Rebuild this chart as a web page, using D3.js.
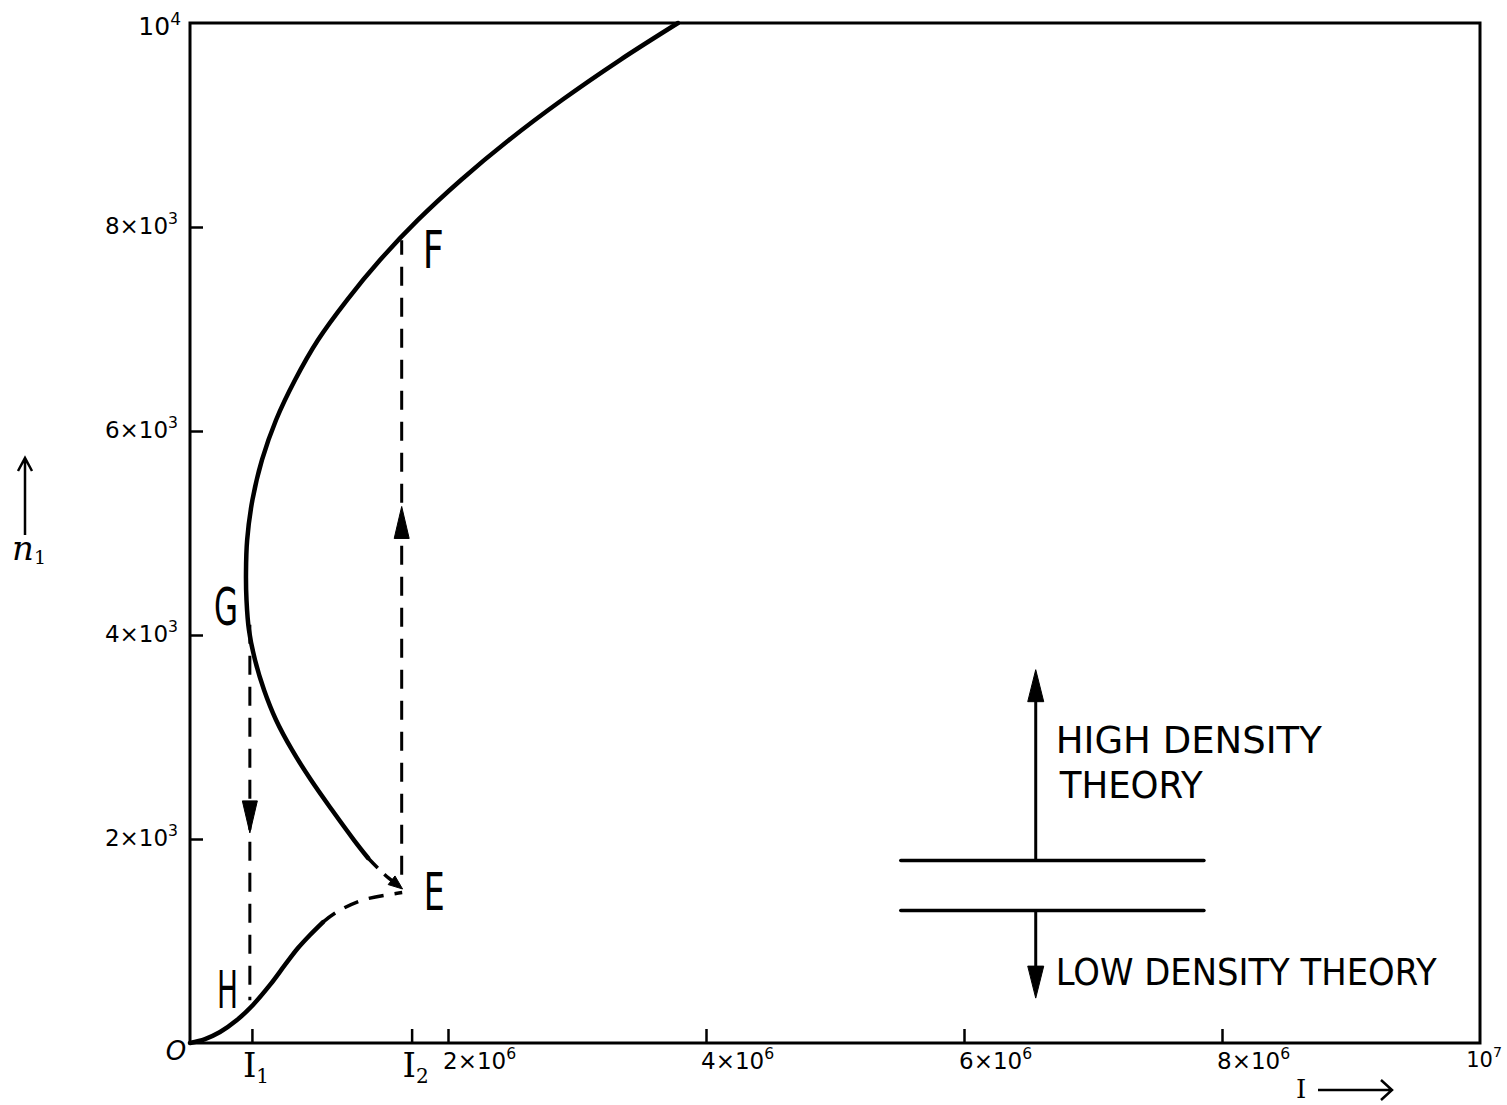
<!DOCTYPE html>
<html><head><meta charset="utf-8">
<script src="https://cdn.jsdelivr.net/npm/d3@7"></script>
<style>body{margin:0;background:#fff} svg{display:block}</style>
</head><body>
<svg id="chart" width="1507" height="1105"></svg>
<script>
// ---- data (I in amperes-like units, n1 density) ----
const xTickValues = [2e6, 4e6, 6e6, 8e6];
const xTickBase = ["2×10", "4×10", "6×10", "8×10"];
const xTickExp = ["6", "6", "6", "6"];
const yTickValues = [2e3, 4e3, 6e3, 8e3];
const yTickBase = ["2×10", "4×10", "6×10", "8×10"];
const yTickExp = ["3", "3", "3", "3"];
const xMax = 1e7, yMax = 1e4;

// high-density branch (solid), from top down to the fold near E
const upperI = [3.783e6, 3.333e6, 2.884e6, 2.473e6, 2.101e6, 1.767e6, 1.473e6, 1.217e6, 0.992e6, 0.814e6, 0.667e6, 0.558e6, 0.484e6, 0.443e6, 0.434e6, 0.438e6, 0.457e6, 0.504e6, 0.574e6, 0.667e6, 0.791e6, 0.938e6, 1.101e6, 1.271e6, 1.380e6];
const upperN = [10.0e3, 9.637e3, 9.245e3, 8.853e3, 8.461e3, 8.069e3, 7.676e3, 7.284e3, 6.892e3, 6.500e3, 6.108e3, 5.716e3, 5.324e3, 4.931e3, 4.608e3, 4.343e3, 4.049e3, 3.755e3, 3.461e3, 3.167e3, 2.873e3, 2.578e3, 2.284e3, 1.990e3, 1.814e3];
// dashed continuation into E
const upperDashI = [1.380e6, 1.51e6, 1.64e6];
const upperDashN = [1.814e3, 1.65e3, 1.52e3];
// low-density branch (solid)
const lowerI = [0.0, 0.116e6, 0.233e6, 0.364e6, 0.488e6, 0.620e6, 0.736e6, 0.837e6, 0.930e6, 1.031e6];
const lowerN = [0.0, 0.039e3, 0.108e3, 0.225e3, 0.373e3, 0.569e3, 0.765e3, 0.931e3, 1.059e3, 1.186e3];
// dashed continuation into E
const lowerDashI = [1.031e6, 1.138e6, 1.339e6, 1.645e6];
const lowerDashN = [1.186e3, 1.284e3, 1.402e3, 1.475e3];

// jumps (hysteresis transitions)
const jumpI = [0.464e6, 1.641e6];
const jumpFromN = [4.10e3, 1.65e3];
const jumpToN = [0.42e3, 7.87e3];
const jumpArrowN = [2.06e3, 5.26e3];

// I1, I2 markers on the x axis
const markI = [0.48e6, 1.718e6];
const markSub = ["1", "2"];

// point labels
const pointLabels = ["F", "G", "E", "H"];
const pointI = [1.641e6, 0.449e6, 1.641e6, 0.488e6];
const pointN = [7.87e3, 4.18e3, 1.52e3, 0.373e3];

// regime legend (in data units)
const legendI = [5.51e6, 7.86e6];
const legendN = [1.79e3, 1.30e3];
const legendArrowI = 6.556e6;
const legendArrowN = [3.66e3, 0.44e3];
const legendTexts = ["HIGH DENSITY", "THEORY", "LOW DENSITY THEORY"];

// ---- drawing ----
const svg = d3.select("#chart");
const x = d3.scaleLinear().domain([0, xMax]).range([190, 1480]);
const y = d3.scaleLinear().domain([0, yMax]).range([1043, 23]);
const numFont = "'DejaVu Sans', sans-serif";
const serif = "'DejaVu Serif', 'Liberation Serif', serif";

// frame
svg.append("rect").attr("x", x(0)).attr("y", y(yMax))
  .attr("width", x(xMax) - x(0)).attr("height", y(0) - y(yMax))
  .attr("fill", "none").attr("stroke", "#000").attr("stroke-width", 3);

// y ticks (inward)
const gy = svg.append("g").attr("transform", `translate(${x(0)},0)`)
  .call(d3.axisRight(y).tickValues(yTickValues).tickSize(13).tickFormat(""));
gy.select(".domain").remove();
gy.selectAll(".tick line").attr("stroke", "#000").attr("stroke-width", 2.5);

// x ticks (inward, upward)
const gx = svg.append("g").attr("transform", `translate(0,${y(0)})`)
  .call(d3.axisTop(x).tickValues(xTickValues.concat(markI)).tickSize(14).tickFormat(""));
gx.select(".domain").remove();
gx.selectAll(".tick line").attr("stroke", "#000").attr("stroke-width", 2.5);

function supLabel(sel, base, exp, xx, yy, anchor, fs) {
  fs = fs || 23;
  const t = sel.append("text").attr("x", xx).attr("y", yy)
    .attr("text-anchor", anchor).attr("font-family", numFont)
    .attr("font-size", fs).attr("fill", "#000");
  t.append("tspan").text(base);
  t.append("tspan").attr("dy", -10).attr("font-size", fs * 0.68).text(exp);
  return t;
}
// y labels
yTickValues.forEach((v, i) => supLabel(svg, yTickBase[i], yTickExp[i], 178, y(v) + 7, "end"));
supLabel(svg, "10", "4", 181, y(yMax) + 12, "end", 25);
// x labels
xTickValues.forEach((v, i) => supLabel(svg, xTickBase[i], xTickExp[i], x(v) - 5, y(0) + 26, "start"));
supLabel(svg, "10", "7", 1502, y(0) + 24, "end", 21);

// origin label
svg.append("text").attr("x", 176).attr("y", 1060).attr("text-anchor", "middle")
  .attr("font-family", numFont).attr("font-style", "italic").attr("font-size", 26).text("O");

// I1, I2 labels
markI.forEach((v, i) => {
  const t = svg.append("text").attr("x", x(v) - 9).attr("y", 1077)
    .attr("font-family", serif).attr("font-size", 34).attr("fill", "#000");
  t.append("tspan").text("I");
  t.append("tspan").attr("dy", 6).attr("font-size", 20).text(markSub[i]);
});

// axis titles
const yt = svg.append("text").attr("x", 12).attr("y", 560)
  .attr("font-family", serif).attr("font-style", "italic").attr("font-size", 34);
yt.append("tspan").text("n");
yt.append("tspan").attr("dy", 4).attr("font-size", 19).attr("font-style", "normal").text("1");
svg.append("path").attr("d", "M25,535 L25,458 M18,471 L25,458 L32,471")
  .attr("fill", "none").attr("stroke", "#000").attr("stroke-width", 2.5);

svg.append("text").attr("x", 1296).attr("y", 1098)
  .attr("font-family", serif).attr("font-size", 26).text("I");
svg.append("path").attr("d", "M1318,1090 L1392,1090 M1381,1080 L1392,1090 L1381,1100")
  .attr("fill", "none").attr("stroke", "#000").attr("stroke-width", 2.5);

// curves
const line = d3.line().x(d => x(d[0])).y(d => y(d[1])).curve(d3.curveCatmullRom.alpha(0.5));
const zip = (a, b) => a.map((v, i) => [v, b[i]]);

svg.append("path").attr("d", line(zip(upperI, upperN)))
  .attr("fill", "none").attr("stroke", "#000").attr("stroke-width", 4.5).attr("stroke-linecap", "round");
svg.append("path").attr("d", line(zip(lowerI, lowerN)))
  .attr("fill", "none").attr("stroke", "#000").attr("stroke-width", 4.5).attr("stroke-linecap", "round");
svg.append("path").attr("d", line(zip(upperDashI, upperDashN)))
  .attr("fill", "none").attr("stroke", "#000").attr("stroke-width", 3.5)
  .attr("stroke-dasharray", "14,9");
svg.append("path").attr("d", line(zip(lowerDashI, lowerDashN)))
  .attr("fill", "none").attr("stroke", "#000").attr("stroke-width", 3.5)
  .attr("stroke-dasharray", "15,11");

function arrowHead(tx, ty, ang, len, wid) {
  // tip at (tx,ty), pointing in direction ang (radians)
  const bx = tx - len * Math.cos(ang), by = ty - len * Math.sin(ang);
  const px = -Math.sin(ang) * wid / 2, py = Math.cos(ang) * wid / 2;
  svg.append("path")
    .attr("d", `M${tx},${ty} L${bx + px},${by + py} L${bx - px},${by - py} Z`)
    .attr("fill", "#000").attr("stroke", "#000").attr("stroke-width", 1);
}
// arrow into E on upper dashed curve
{
  const n = upperDashI.length;
  const x1 = x(upperDashI[n - 2]), y1 = y(upperDashN[n - 2]);
  const x2 = x(upperDashI[n - 1]), y2 = y(upperDashN[n - 1]);
  arrowHead(x2 + 1, y2 + 1, Math.atan2(y2 - y1, x2 - x1), 14, 11);
}

// vertical jumps
jumpI.forEach((v, i) => {
  svg.append("line").attr("x1", x(v)).attr("x2", x(v))
    .attr("y1", y(jumpFromN[i])).attr("y2", y(jumpToN[i]))
    .attr("stroke", "#000").attr("stroke-width", 3).attr("stroke-dasharray", "19,12");
  const dir = jumpToN[i] > jumpFromN[i] ? -Math.PI / 2 : Math.PI / 2;
  arrowHead(x(v), y(jumpArrowN[i]), dir, 32, 15);
});

// point labels (condensed capitals)
const labelOffsets = { F: [21, 28], G: [-34, 8], E: [22, 22], H: [-36, 3] };
pointLabels.forEach((lab, i) => {
  const o = labelOffsets[lab];
  svg.append("text").attr("x", x(pointI[i]) + o[0]).attr("y", y(pointN[i]) + o[1])
    .attr("font-family", numFont).attr("font-size", 52)
    .attr("textLength", lab === "G" ? 24 : 21).attr("lengthAdjust", "spacingAndGlyphs")
    .text(lab);
});

// legend
legendN.forEach(n => {
  svg.append("line").attr("x1", x(legendI[0])).attr("x2", x(legendI[1]))
    .attr("y1", y(n)).attr("y2", y(n))
    .attr("stroke", "#000").attr("stroke-width", 3.5).attr("stroke-linecap", "round");
});
const ax = x(legendArrowI);
svg.append("line").attr("x1", ax).attr("x2", ax).attr("y1", y(legendN[0])).attr("y2", y(legendArrowN[0]) + 20)
  .attr("stroke", "#000").attr("stroke-width", 3);
arrowHead(ax, y(legendArrowN[0]), -Math.PI / 2, 32, 16);
svg.append("line").attr("x1", ax).attr("x2", ax).attr("y1", y(legendN[1])).attr("y2", y(legendArrowN[1]) - 20)
  .attr("stroke", "#000").attr("stroke-width", 3);
arrowHead(ax, y(legendArrowN[1]), Math.PI / 2, 32, 16);

const legTextPos = [[ax + 20, 753, 266], [ax + 24, 798, 143], [ax + 20, 985, 381]];
legendTexts.forEach((t, i) => {
  svg.append("text").attr("x", legTextPos[i][0]).attr("y", legTextPos[i][1])
    .attr("font-family", numFont).attr("font-size", 37)
    .attr("textLength", legTextPos[i][2]).attr("lengthAdjust", "spacingAndGlyphs")
    .text(t);
});
</script>
</body></html>
